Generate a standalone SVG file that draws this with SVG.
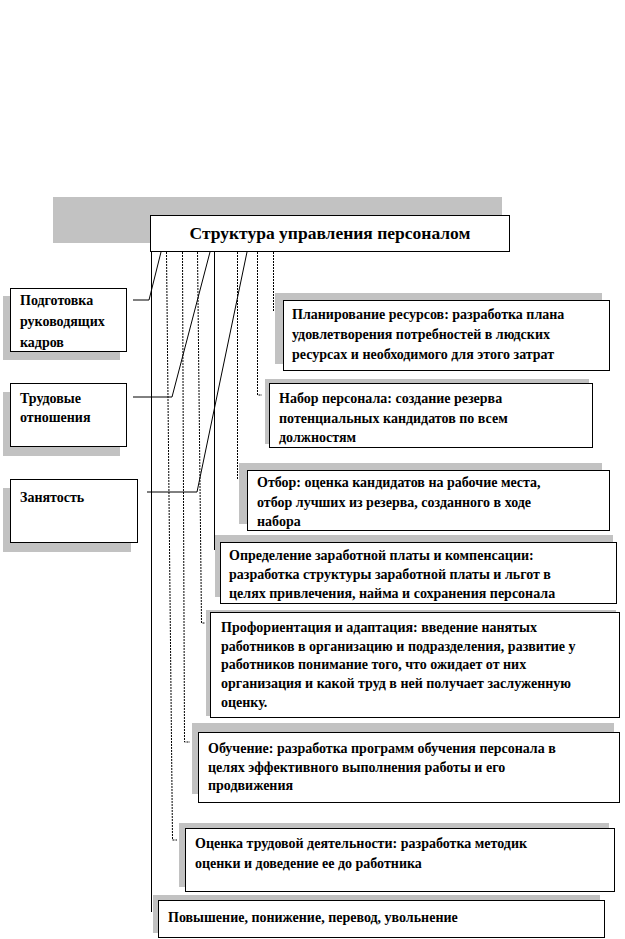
<svg xmlns="http://www.w3.org/2000/svg" width="625" height="939" viewBox="0 0 625 939">
<style>
.bg{fill:#ffffff}
.sh{fill:#c2c2c2}
.bx{fill:#ffffff;stroke:#000;stroke-width:1}
.t{font-family:"Liberation Serif","Times New Roman",serif;font-weight:bold;font-size:14px;fill:#000}
.h{font-family:"Liberation Serif","Times New Roman",serif;font-weight:bold;font-size:17.5px;fill:#000}
.c{fill:none;stroke:#000;stroke-width:1}
.d{fill:none;stroke:#000;stroke-width:1;stroke-dasharray:2 1}
</style>
<rect class="bg" x="0" y="0" width="625" height="939"/>

<g id="header">
<rect class="sh" x="53" y="197" width="449" height="46"/>
<rect class="bx" x="150.5" y="215.5" width="359" height="36"/>
<text class="h" x="330" y="239" text-anchor="middle">Структура управления персоналом</text>
</g>

<g id="connectors">
<polyline class="c" points="161,252 149,300 133,300"/>
<polyline class="c" points="210,252 172,397 133,397"/>
<polyline class="c" points="247,252 197,492 147,492"/>
<polyline class="d" points="273.5,252 273.5,312"/>
<polyline class="d" points="257.5,252 257.5,395 262,395"/>
<polyline class="d" points="237.5,252 237.5,480"/>
<polyline class="c" points="214.5,252 214.5,550"/>
<polyline class="d" points="197.5,252 201.5,623 205,623"/>
<polyline class="d" points="182.5,252 184.5,742 190,742"/>
<polyline class="d" points="166.5,252 172.5,840 177,840"/>
<polyline class="c" points="151.5,252 151.5,912"/>
</g>

<g id="n-podgotovka">
<rect class="sh" x="3" y="296" width="117" height="64"/>
<rect class="bx" x="10.5" y="288.5" width="116" height="63"/>
<text class="t" x="20" y="305">Подготовка</text>
<text class="t" x="20" y="326">руководящих</text>
<text class="t" x="20" y="347">кадров</text>
</g>

<g id="n-trudovye">
<rect class="sh" x="3" y="392" width="117" height="64"/>
<rect class="bx" x="10.5" y="383.5" width="116" height="63"/>
<text class="t" x="20" y="403">Трудовые</text>
<text class="t" x="20" y="422">отношения</text>
</g>

<g id="n-zanyatost">
<rect class="sh" x="3" y="488" width="128" height="64"/>
<rect class="bx" x="10.5" y="479.5" width="127" height="63"/>
<text class="t" x="20" y="502">Занятость</text>
</g>

<g id="n-planirovanie">
<rect class="sh" x="275" y="293" width="327" height="71"/>
<rect class="bx" x="283.5" y="300.5" width="326" height="70"/>
<text class="t" x="292" y="319">Планирование ресурсов: разработка плана</text>
<text class="t" x="292" y="339">удовлетворения потребностей в людских</text>
<text class="t" x="292" y="359">ресурсах и необходимого для этого затрат</text>
</g>

<g id="n-nabor">
<rect class="sh" x="265" y="379" width="324" height="65"/>
<rect class="bx" x="269.5" y="383.5" width="323" height="64"/>
<text class="t" x="279" y="403">Набор персонала: создание резерва</text>
<text class="t" x="279" y="423">потенциальных кандидатов по всем</text>
<text class="t" x="279" y="442">должностям</text>
</g>

<g id="n-otbor">
<rect class="sh" x="239" y="463" width="363" height="61"/>
<rect class="bx" x="247.5" y="470.5" width="362" height="60"/>
<text class="t" x="257" y="487">Отбор: оценка кандидатов на рабочие места,</text>
<text class="t" x="257" y="507">отбор лучших  из резерва, созданного в ходе</text>
<text class="t" x="257" y="526">набора</text>
</g>

<g id="n-opredelenie">
<rect class="sh" x="215" y="535" width="398" height="62"/>
<rect class="bx" x="220.5" y="542.5" width="396" height="61"/>
<text class="t" x="229" y="560">Определение заработной платы и компенсации:</text>
<text class="t" x="229" y="579">разработка  структуры  заработной платы и льгот в</text>
<text class="t" x="229" y="598">целях привлечения, найма и сохранения персонала</text>
</g>

<g id="n-proforientatsiya">
<rect class="sh" x="206" y="610" width="410" height="106"/>
<rect class="bx" x="210.5" y="612.5" width="409" height="105"/>
<text class="t" x="221" y="632">Профориентация и адаптация: введение нанятых</text>
<text class="t" x="221" y="651">работников в организацию и подразделения, развитие у</text>
<text class="t" x="221" y="669">работников понимание того, что  ожидает от них</text>
<text class="t" x="221" y="688">организация и какой  труд в ней получает заслуженную</text>
<text class="t" x="221" y="707">оценку.</text>
</g>

<g id="n-obuchenie">
<rect class="sh" x="192" y="723" width="422" height="71"/>
<rect class="bx" x="198.5" y="732.5" width="421" height="70"/>
<text class="t" x="208" y="753">Обучение:  разработка программ  обучения персонала в</text>
<text class="t" x="208" y="772">целях эффективного  выполнения работы и его</text>
<text class="t" x="208" y="790">продвижения</text>
</g>

<g id="n-otsenka">
<rect class="sh" x="179" y="823" width="430" height="64"/>
<rect class="bx" x="185.5" y="828.5" width="429" height="63"/>
<text class="t" x="195" y="848">Оценка трудовой деятельности:  разработка методик</text>
<text class="t" x="195" y="868">оценки и доведение ее до работника</text>
</g>

<g id="n-povyshenie">
<rect class="sh" x="153" y="895" width="447" height="38"/>
<rect class="bx" x="158.5" y="900.5" width="446" height="37"/>
<text class="t" x="168" y="922">Повышение, понижение, перевод, увольнение</text>
</g>
</svg>
